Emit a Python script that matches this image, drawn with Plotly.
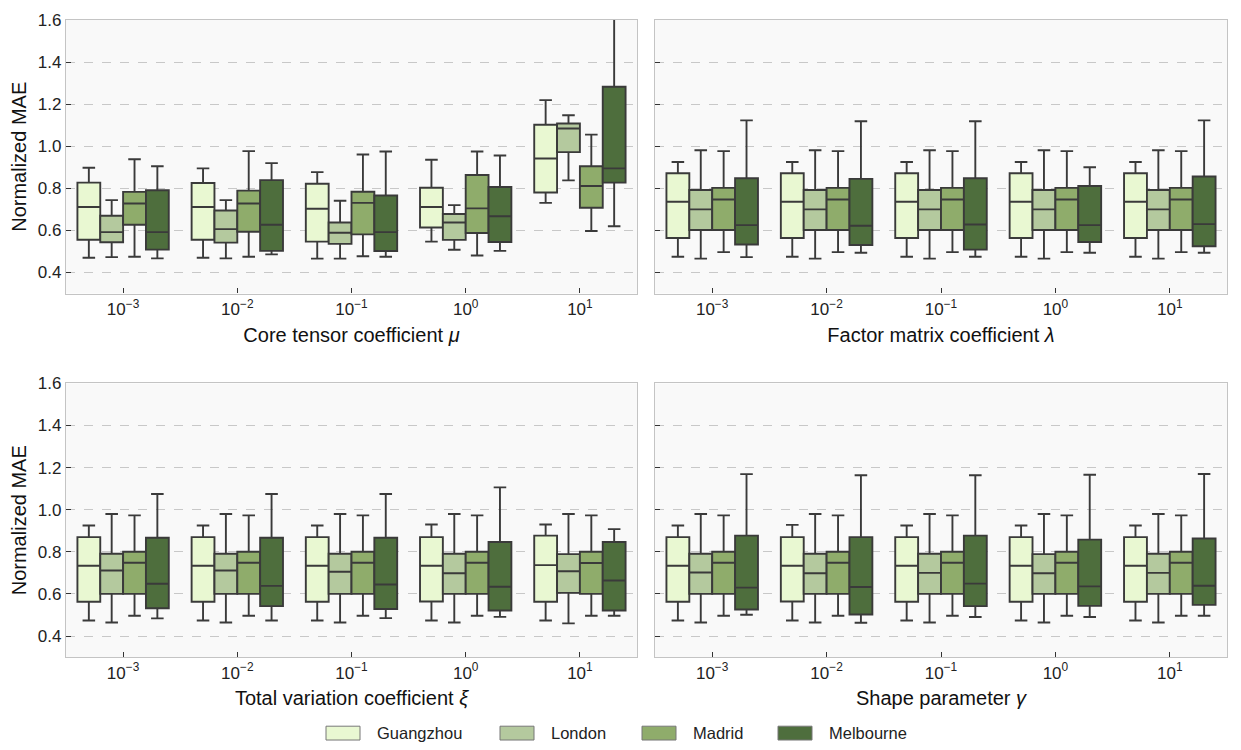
import plotly.graph_objects as go

cities = ["Guangzhou", "London", "Madrid", "Melbourne"]
categories = ["1e-3", "1e-2", "1e-1", "1e0", "1e1"]
tick_labels = ["10<sup>−3</sup>", "10<sup>−2</sup>", "10<sup>−1</sup>", "10<sup>0</sup>", "10<sup>1</sup>"]
colors = ["#e9f8d2", "#b4c99e", "#8fac6b", "#4e6e3d"]
panel_titles = [
    "Core tensor coefficient <i>μ</i>",
    "Factor matrix coefficient <i>λ</i>",
    "Total variation coefficient <i>ξ</i>",
    "Shape parameter <i>γ</i>",
]
y_ticks = [0.4, 0.6, 0.8, 1.0, 1.2, 1.4, 1.6]

# Panel 1: core tensor coefficient mu  (rows: Guangzhou, London, Madrid, Melbourne)
mu_upper = [[0.898, 0.895, 0.877, 0.936, 1.219],
            [0.744, 0.744, 0.741, 0.720, 1.147],
            [0.938, 0.977, 0.961, 0.975, 1.055],
            [0.905, 0.920, 0.975, 0.956, 1.660]]
mu_q3 = [[0.827, 0.825, 0.822, 0.803, 1.102],
         [0.670, 0.695, 0.638, 0.678, 1.108],
         [0.783, 0.789, 0.784, 0.863, 0.905],
         [0.791, 0.839, 0.766, 0.806, 1.283]]
mu_med = [[0.711, 0.711, 0.703, 0.711, 0.942],
          [0.592, 0.606, 0.589, 0.638, 1.084],
          [0.728, 0.728, 0.731, 0.705, 0.811],
          [0.592, 0.627, 0.592, 0.667, 0.895]]
mu_q1 = [[0.556, 0.556, 0.547, 0.614, 0.780],
         [0.544, 0.542, 0.536, 0.555, 0.972],
         [0.627, 0.594, 0.581, 0.588, 0.708],
         [0.509, 0.503, 0.502, 0.545, 0.827]]
mu_lower = [[0.470, 0.470, 0.466, 0.547, 0.731],
            [0.473, 0.467, 0.466, 0.508, 0.838],
            [0.475, 0.475, 0.477, 0.481, 0.597],
            [0.467, 0.486, 0.475, 0.503, 0.620]]

# Panel 2: factor matrix coefficient lambda
lam_upper = [[0.925, 0.925, 0.925, 0.925, 0.925],
             [0.981, 0.981, 0.981, 0.981, 0.981],
             [0.977, 0.977, 0.977, 0.977, 0.977],
             [1.123, 1.119, 1.119, 0.900, 1.123]]
lam_q3 = [[0.872, 0.872, 0.872, 0.872, 0.872],
          [0.792, 0.792, 0.792, 0.792, 0.792],
          [0.802, 0.802, 0.802, 0.802, 0.802],
          [0.848, 0.845, 0.848, 0.811, 0.856]]
lam_med = [[0.736, 0.736, 0.736, 0.736, 0.736],
           [0.700, 0.700, 0.700, 0.700, 0.700],
           [0.747, 0.747, 0.747, 0.747, 0.747],
           [0.625, 0.622, 0.628, 0.625, 0.630]]
lam_q1 = [[0.564, 0.564, 0.564, 0.564, 0.564],
          [0.602, 0.602, 0.602, 0.602, 0.602],
          [0.602, 0.602, 0.602, 0.602, 0.602],
          [0.533, 0.531, 0.509, 0.545, 0.525]]
lam_lower = [[0.475, 0.475, 0.475, 0.475, 0.475],
             [0.466, 0.466, 0.466, 0.466, 0.466],
             [0.497, 0.497, 0.497, 0.497, 0.497],
             [0.473, 0.494, 0.475, 0.494, 0.494]]

# Panel 3: total variation coefficient xi
xi_upper = [[0.925, 0.925, 0.925, 0.930, 0.930],
            [0.980, 0.980, 0.980, 0.980, 0.980],
            [0.973, 0.973, 0.973, 0.973, 0.973],
            [1.075, 1.075, 1.075, 1.106, 0.908]]
xi_q3 = [[0.870, 0.870, 0.870, 0.870, 0.877],
         [0.791, 0.791, 0.791, 0.791, 0.789],
         [0.800, 0.800, 0.800, 0.800, 0.800],
         [0.867, 0.867, 0.867, 0.847, 0.847]]
xi_med = [[0.734, 0.734, 0.734, 0.734, 0.737],
          [0.711, 0.711, 0.705, 0.698, 0.708],
          [0.748, 0.748, 0.748, 0.748, 0.747],
          [0.648, 0.638, 0.645, 0.634, 0.664]]
xi_q1 = [[0.563, 0.563, 0.563, 0.564, 0.563],
         [0.600, 0.600, 0.600, 0.600, 0.605],
         [0.600, 0.600, 0.600, 0.600, 0.600],
         [0.532, 0.542, 0.528, 0.521, 0.521]]
xi_lower = [[0.474, 0.474, 0.474, 0.474, 0.474],
            [0.464, 0.464, 0.464, 0.464, 0.460],
            [0.496, 0.496, 0.496, 0.496, 0.496],
            [0.484, 0.474, 0.485, 0.491, 0.496]]

# Panel 4: shape parameter gamma
gam_upper = [[0.925, 0.928, 0.925, 0.925, 0.925],
             [0.980, 0.980, 0.980, 0.980, 0.980],
             [0.973, 0.973, 0.973, 0.973, 0.973],
             [1.169, 1.164, 1.164, 1.166, 1.170]]
gam_q3 = [[0.870, 0.870, 0.870, 0.870, 0.870],
          [0.791, 0.791, 0.791, 0.789, 0.791],
          [0.800, 0.800, 0.800, 0.800, 0.800],
          [0.877, 0.870, 0.877, 0.858, 0.863]]
gam_med = [[0.734, 0.734, 0.734, 0.734, 0.734],
           [0.702, 0.698, 0.700, 0.698, 0.700],
           [0.748, 0.748, 0.748, 0.748, 0.748],
           [0.630, 0.633, 0.649, 0.636, 0.639]]
gam_q1 = [[0.563, 0.564, 0.563, 0.563, 0.563],
          [0.600, 0.600, 0.600, 0.600, 0.600],
          [0.600, 0.600, 0.600, 0.600, 0.600],
          [0.526, 0.502, 0.542, 0.543, 0.548]]
gam_lower = [[0.474, 0.474, 0.474, 0.474, 0.474],
             [0.464, 0.464, 0.464, 0.464, 0.464],
             [0.496, 0.496, 0.496, 0.496, 0.496],
             [0.501, 0.463, 0.490, 0.490, 0.496]]

panels = [
    (mu_lower, mu_q1, mu_med, mu_q3, mu_upper),
    (lam_lower, lam_q1, lam_med, lam_q3, lam_upper),
    (xi_lower, xi_q1, xi_med, xi_q3, xi_upper),
    (gam_lower, gam_q1, gam_med, gam_q3, gam_upper),
]

FONT = "Liberation Sans, Arial, Helvetica, sans-serif"
EDGE = "#3a3a3a"
# page is 1241x750; the html body has an 8px margin, so the figure is 16px smaller
W, H = 1225, 734
OFF = 8


def px_x(x):
    return (x - OFF) / W


def px_y(y):
    return 1 - (y - OFF) / H


fig = go.Figure()
for p, (lo, q1, med, q3, up) in enumerate(panels):
    ax = "" if p == 0 else str(p + 1)
    for c, city in enumerate(cities):
        fig.add_trace(go.Box(
            x=categories, lowerfence=lo[c], q1=q1[c], median=med[c], q3=q3[c], upperfence=up[c],
            name=city, legendgroup=city, showlegend=False, offsetgroup=city,
            fillcolor=colors[c], line=dict(color=EDGE, width=1.9),
            marker=dict(color=colors[c]), whiskerwidth=0.55,
            xaxis="x" + ax, yaxis="y" + ax, hoverinfo="skip",
        ))

xd = [[px_x(66), px_x(637)], [px_x(655), px_x(1227)]]
yd = [[px_y(288), px_y(11)], [px_y(656), px_y(379)]]

layout = dict(
    width=W, height=H,
    margin=dict(l=0, r=0, t=0, b=0),
    paper_bgcolor="white", plot_bgcolor="#f9f9f9",
    font=dict(family=FONT, color="#222222"),
    boxmode="group", boxgap=0.2, boxgroupgap=0.0,
    showlegend=False,
)
for p in range(4):
    r, col = divmod(p, 2)
    ax = "" if p == 0 else str(p + 1)
    layout["xaxis" + ax] = dict(
        domain=xd[col], anchor="y" + ax, type="category",
        categoryorder="array", categoryarray=categories,
        tickvals=categories, ticktext=tick_labels, range=[-0.5, 4.5],
        ticks="inside", ticklen=5, tickwidth=1.2, tickcolor="#333",
        tickfont=dict(size=17, family=FONT, color="#222"),
        showgrid=False, zeroline=False,
        showline=True, mirror=True, linecolor="#c4c4c4", linewidth=1.2,
        title=dict(text=panel_titles[p], font=dict(size=20, family=FONT, color="#111"), standoff=9),
    )
    layout["yaxis" + ax] = dict(
        domain=yd[r], anchor="x" + ax, range=[0.3, 1.6],
        tickvals=y_ticks, ticktext=[f"{v:.1f}" for v in y_ticks],
        showticklabels=(col == 0),
        ticks="inside", ticklen=5, tickwidth=1.2, tickcolor="#333",
        tickfont=dict(size=17, family=FONT, color="#222"),
        showgrid=True, gridcolor="#c8c8c8", griddash="dash", gridwidth=1,
        zeroline=False,
        showline=True, mirror=True, linecolor="#c4c4c4", linewidth=1.2,
        title=dict(text="Normalized MAE" if col == 0 else "",
                   font=dict(size=20, family=FONT, color="#111"), standoff=7),
    )

# legend drawn as paper-anchored patches with text labels
legend_sym_x = [326, 500, 642, 778]
shapes, annotations = [], []
for c, city in enumerate(cities):
    x0 = legend_sym_x[c]
    shapes.append(dict(type="rect", xref="paper", yref="paper",
                       x0=px_x(x0), x1=px_x(x0 + 34), y0=px_y(740), y1=px_y(726),
                       fillcolor=colors[c], line=dict(color="#777777", width=1)))
    annotations.append(dict(xref="paper", yref="paper", x=px_x(x0 + 49), y=px_y(733),
                            xanchor="left", yanchor="middle", showarrow=False, text=city,
                            font=dict(size=16.5, family=FONT, color="#222")))
layout["shapes"] = shapes
layout["annotations"] = annotations

fig.update_layout(**layout)
fig.write_html("out.html")
